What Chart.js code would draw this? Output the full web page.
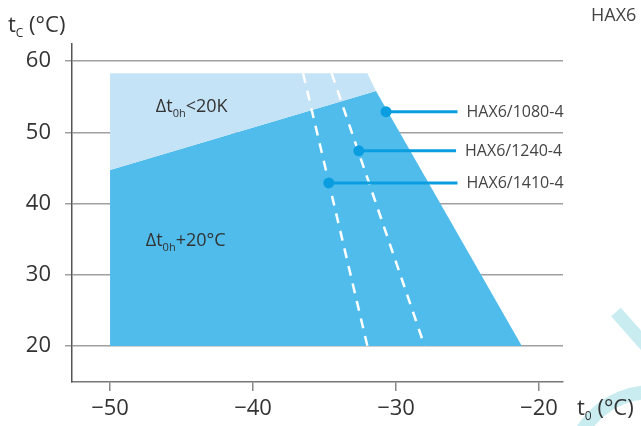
<!DOCTYPE html>
<html>
<head>
<meta charset="utf-8">
<script src="https://cdn.jsdelivr.net/npm/chart.js@4/dist/chart.umd.min.js"></script>
<style>
  body { margin: 0; background: #fff; }
  #wrap { width: 641px; height: 426px; }
</style>
</head>
<body>
<div id="wrap"><canvas id="grafico" width="641" height="426"></canvas></div>
<script>
// envelope values (t0 = evaporating, tc = condensing)
const xTicks = [-50, -40, -30, -20];
const yTicks = [20, 30, 40, 50, 60];

const lightZoneT0 = [-50, -50, -32.0, -31.4, -50];
const lightZoneTc = [44.7, 58.3, 58.3, 55.8, 44.7];

const mainZoneT0 = [-50, -50, -31.4, -21.2, -50];
const mainZoneTc = [20, 44.7, 55.8, 20, 20];

const limitTc = [58.3, 20];
const limit1T0 = [-36.5, -32.0];
const limit2T0 = [-34.5, -28.0];

const models = ['HAX6/1080-4', 'HAX6/1240-4', 'HAX6/1410-4'];
const modelT0 = [-30.7, -32.6, -34.7];
const modelTc = [52.9, 47.4, 42.9];
const leaderEndT0 = [-25.7, -25.8, -25.7];

const FONT = '"Open Sans", "Noto Sans", sans-serif';
const azulClaro = '#c5e3f6';
const azulMedio = '#50bcec';
const azulLinha = '#0a9ee0';

function pts(xs, ys) {
    return xs.map((x, i) => ({ x: x, y: ys[i] }));
}

function desenharPartes(ctx, x, y, partes, cor) {
    ctx.fillStyle = cor;
    ctx.textBaseline = 'alphabetic';
    ctx.textAlign = 'left';
    partes.forEach(p => {
        ctx.font = p.size + 'px ' + FONT;
        ctx.fillText(p.t, x, y + (p.dy || 0));
        x += ctx.measureText(p.t).width;
    });
}

let datasets = [
    {
        data: pts(mainZoneT0, mainZoneTc),
        showLine: true, fill: 'shape', backgroundColor: azulMedio,
        borderWidth: 0, borderColor: 'transparent', pointRadius: 0, order: 6
    },
    {
        data: pts(lightZoneT0, lightZoneTc),
        showLine: true, fill: 'shape', backgroundColor: azulClaro,
        borderWidth: 0, borderColor: 'transparent', pointRadius: 0, order: 5
    },
    {
        data: pts(limit1T0, limitTc),
        showLine: true, borderColor: '#ffffff', borderWidth: 2.5,
        borderDash: [10, 8], pointRadius: 0, order: 4
    },
    {
        data: pts(limit2T0, limitTc),
        showLine: true, borderColor: '#ffffff', borderWidth: 2.5,
        borderDash: [10, 8], pointRadius: 0, order: 4
    }
];

models.forEach((m, i) => {
    datasets.push({
        label: m,
        data: [{ x: modelT0[i], y: modelTc[i] }, { x: leaderEndT0[i], y: modelTc[i] }],
        showLine: true, borderColor: azulLinha, borderWidth: 3,
        pointRadius: 0, order: 2
    });
});

datasets.push({
    data: pts(modelT0, modelTc),
    showLine: false, pointRadius: 5.5, pointBackgroundColor: azulLinha,
    pointBorderWidth: 0, order: 1
});

const textos = {
    id: 'textos',
    afterDraw(chart) {
        const ctx = chart.ctx;
        const xs = chart.scales.x, ys = chart.scales.y;
        ctx.save();

        // model labels
        models.forEach((m, i) => {
            ctx.font = '16px ' + FONT;
            ctx.fillStyle = '#444';
            ctx.textAlign = 'left';
            ctx.textBaseline = 'alphabetic';
            ctx.fillText(m, xs.getPixelForValue(leaderEndT0[i]) + 9, ys.getPixelForValue(modelTc[i]) + 5.5);
        });

        // zone labels
        desenharPartes(ctx, xs.getPixelForValue(-46.8), ys.getPixelForValue(52.9),
            [{ t: '\u0394t', size: 18 }, { t: '0h', size: 11, dy: 5 }, { t: '<20K', size: 18 }], '#333');
        desenharPartes(ctx, xs.getPixelForValue(-47.5), ys.getPixelForValue(34.0),
            [{ t: '\u0394t', size: 18 }, { t: '0h', size: 11, dy: 5 }, { t: '+20\u00b0C', size: 18 }], '#333');

        // axis titles
        desenharPartes(ctx, 8, 32, [{ t: 't', size: 22 }, { t: 'C', size: 12, dy: 5 }, { t: ' (\u00b0C)', size: 22 }], '#333');
        desenharPartes(ctx, 577, 415, [{ t: 't', size: 22 }, { t: '0', size: 12, dy: 5 }, { t: ' (\u00b0C)', size: 22 }], '#333');

        ctx.font = '18px ' + FONT;
        ctx.fillStyle = '#444';
        ctx.fillText('HAX6', 591, 21);

        // faint watermark at the right edge
        ctx.globalCompositeOperation = 'destination-over';
        ctx.strokeStyle = '#c8ecef';
        ctx.lineWidth = 13;
        ctx.beginPath();
        ctx.moveTo(616, 312);
        ctx.lineTo(662, 364);
        ctx.stroke();
        ctx.lineWidth = 14;
        ctx.beginPath();
        ctx.arc(652, 474, 82, Math.PI * 1.0, Math.PI * 1.6);
        ctx.stroke();
        ctx.restore();
    }
};

function formatMinus(v) {
    return v < 0 ? '\u2212' + Math.abs(v) : String(v);
}

new Chart(document.getElementById('grafico').getContext('2d'), {
    type: 'scatter',
    data: { datasets: datasets },
    options: {
        responsive: false,
        animation: false,
        layout: { padding: { top: 44, right: 78, left: 0, bottom: 0 } },
        plugins: { legend: { display: false }, tooltip: { enabled: false } },
        scales: {
            x: {
                type: 'linear',
                min: -52.66, max: -18.32,
                afterBuildTicks: s => { s.ticks = xTicks.map(v => ({ value: v })); },
                afterFit: s => { s.height = 44; },
                grid: { drawOnChartArea: false, drawTicks: true, tickLength: 9, color: '#888', lineWidth: 1.5 },
                border: { color: '#777', width: 1.5 },
                ticks: {
                    padding: 5, color: '#333',
                    font: { family: FONT, size: 22 },
                    callback: v => formatMinus(v)
                }
            },
            y: {
                type: 'linear',
                min: 14.95, max: 62.4,
                z: 1,
                afterBuildTicks: s => { s.ticks = yTicks.map(v => ({ value: v })); },
                afterFit: s => { s.width = 72; },
                grid: { color: '#a0a0a0', lineWidth: 1.5, tickLength: 7 },
                border: { color: '#555', width: 1.5 },
                ticks: {
                    padding: 14, color: '#333',
                    font: { family: FONT, size: 22 }
                }
            }
        }
    },
    plugins: [textos]
});
</script>
</body>
</html>
